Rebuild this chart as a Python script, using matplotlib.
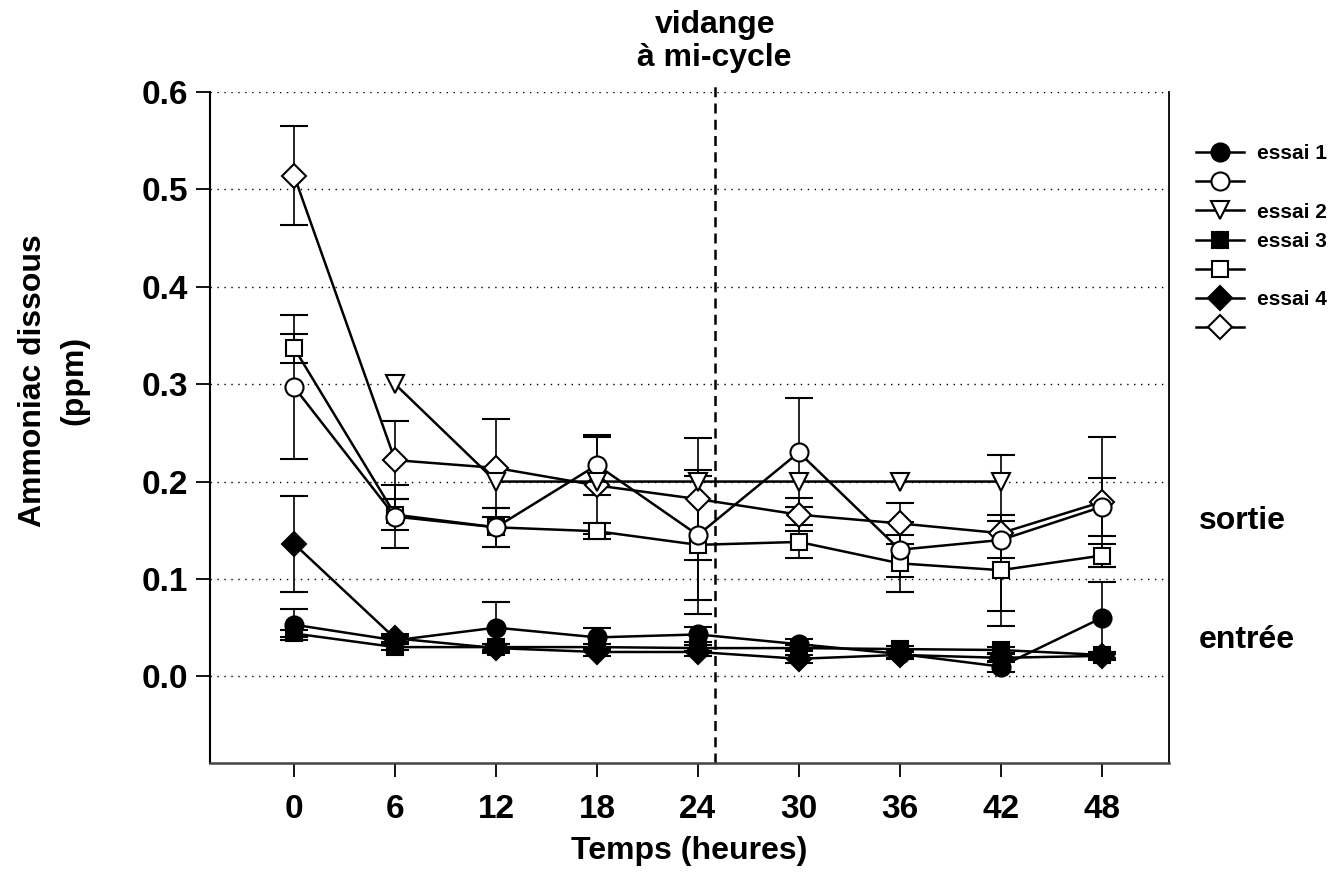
import matplotlib
matplotlib.use("Agg")
import matplotlib.pyplot as plt
from matplotlib.lines import Line2D

plt.rcParams['font.family'] = ['Liberation Sans', 'DejaVu Sans']
plt.rcParams['font.weight'] = 'bold'

# temps d'échantillonnage (heures)
temps = [0, 6, 12, 18, 24, 30, 36, 42, 48]
temps_e2 = [6, 12, 18, 24, 30, 36, 42]

# essai 1
e1_entree = [0.053, 0.037, 0.050, 0.040, 0.043, 0.033, 0.023, 0.010, 0.060]
e1_entree_err = [0.016, 0.004, 0.026, 0.010, 0.008, 0.005, 0.004, 0.006, 0.037]
e1_sortie = [0.297, 0.164, 0.153, 0.217, 0.145, 0.230, 0.130, 0.140, 0.174]
e1_sortie_err = [0.074, 0.032, 0.020, 0.031, 0.067, 0.056, 0.028, 0.019, 0.030]

# essai 2 (sortie seulement)
e2_sortie = [0.300, 0.200, 0.200, 0.200, 0.200, 0.200, 0.200]

# essai 3
e3_entree = [0.044, 0.030, 0.030, 0.030, 0.029, 0.029, 0.028, 0.027, 0.022]
e3_entree_err = [0.004, 0.003, 0.003, 0.003, 0.003, 0.003, 0.003, 0.003, 0.003]
e3_sortie = [0.337, 0.166, 0.153, 0.149, 0.135, 0.138, 0.116, 0.109, 0.124]
e3_sortie_err = [0.015, 0.016, 0.020, 0.008, 0.071, 0.017, 0.029, 0.057, 0.012]

# essai 4
e4_entree = [0.136, 0.039, 0.029, 0.025, 0.025, 0.018, 0.022, 0.019, 0.021]
e4_entree_err = [0.049, 0.004, 0.004, 0.004, 0.004, 0.004, 0.004, 0.004, 0.004]
e4_sortie = [0.514, 0.222, 0.214, 0.196, 0.182, 0.166, 0.157, 0.147, 0.179]
e4_sortie_err = [0.051, 0.040, 0.050, 0.050, 0.063, 0.017, 0.021, 0.080, 0.067]

vidange = 25

fig = plt.figure(figsize=(13.44, 8.92), dpi=100)
ax = fig.add_axes([210 / 1344, 1 - 763 / 892, 959 / 1344, 671 / 892])

for yv in [0.0, 0.1, 0.2, 0.3, 0.4, 0.5, 0.6]:
    ax.axhline(yv, color='black', lw=1, ls=(0, (1, 4)), zorder=0)

ax.axvline(vidange, ymin=0, ymax=1.01, color='black', lw=1.8,
           ls=(0, (4, 2.5)), clip_on=False, zorder=1)

series = [
    (temps, e4_sortie, e4_sortie_err, 'D', 'white', 12),
    (temps, e3_sortie, e3_sortie_err, 's', 'white', 11),
    (temps, e1_sortie, e1_sortie_err, 'o', 'white', 13),
    (temps_e2, e2_sortie, None, 'v', 'white', 13),
    (temps, e4_entree, e4_entree_err, 'D', 'black', 12),
    (temps, e3_entree, e3_entree_err, 's', 'black', 11),
    (temps, e1_entree, e1_entree_err, 'o', 'black', 13),
]

for x, y, err, m, fc, ms in series:
    ax.errorbar(x, y, yerr=err, fmt='-', color='black', lw=1.8, marker=m,
                mfc=fc, mec='black', mew=1.5, ms=ms, ecolor='black',
                elinewidth=1.2, capsize=10, capthick=1.2, zorder=3)

ax.set_xlim(-5, 52)
ax.set_ylim(-0.089, 0.6)
ax.set_xticks(temps)
ax.set_yticks([0.0, 0.1, 0.2, 0.3, 0.4, 0.5, 0.6])
ax.set_yticklabels(['0.0', '0.1', '0.2', '0.3', '0.4', '0.5', '0.6'])
ax.tick_params(axis='both', labelsize=24, length=10, width=1.3, direction='out', pad=6)
ax.tick_params(axis='x', pad=12)

ax.spines['top'].set_visible(False)
ax.spines['left'].set_linewidth(1.5)
ax.spines['right'].set_linewidth(1.3)
ax.spines['bottom'].set_linewidth(1.8)
ax.spines['bottom'].set_color('#444444')

ax.set_xlabel('Temps (heures)', fontsize=23, fontweight='bold', labelpad=8)
ax.set_ylabel('Ammoniac dissous\n(ppm)', fontsize=23, fontweight='bold',
              rotation=90, linespacing=1.5)
ax.yaxis.set_label_coords(-0.126, 0.57)

ax.text(vidange, 0.619, 'vidange\nà mi-cycle', ha='center', va='bottom',
        fontsize=23, fontweight='bold', linespacing=1.15)

fig.text(1199 / 1344, 1 - 521 / 892, 'sortie', ha='left', va='center',
         fontsize=23, fontweight='bold')
fig.text(1199 / 1344, 1 - 640 / 892, 'entrée', ha='left', va='center',
         fontsize=23, fontweight='bold')

# légende
def handle(m, fc, ms):
    return Line2D([], [], color='black', lw=1.8, marker=m, mfc=fc, mec='black',
                  mew=1.5, ms=ms)

handles = [handle('o', 'black', 13), handle('o', 'white', 13),
           handle('v', 'white', 13), handle('s', 'black', 11),
           handle('s', 'white', 11), handle('D', 'black', 12),
           handle('D', 'white', 12)]
labels = ['essai 1', '', 'essai 2', 'essai 3', '', 'essai 4', '']
leg = fig.legend(handles, labels, loc='upper left',
                 bbox_to_anchor=(1188 / 1344, 1 - 136 / 892), frameon=False,
                 prop={'size': 15, 'weight': 'bold'}, handlelength=2.3,
                 labelspacing=0.49, handletextpad=0.6, borderaxespad=0)

fig.savefig('out.png', dpi=100)
